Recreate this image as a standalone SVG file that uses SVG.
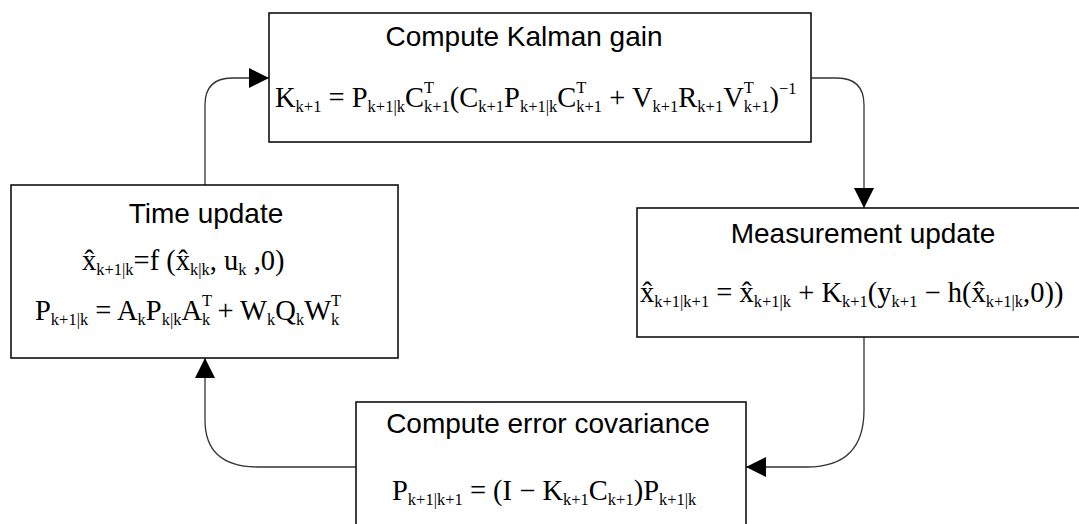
<svg xmlns="http://www.w3.org/2000/svg" width="1079" height="524" viewBox="0 0 1079 524">
<style>
.box{fill:#fff;stroke:#111;stroke-width:1.6}
.t{font-family:"Liberation Sans",Arial,sans-serif;font-size:28px;fill:#000;text-anchor:middle}
.m{font-family:"Liberation Serif","Times New Roman",serif;font-size:28.5px;fill:#000}
.s{font-size:16.5px}
.c{fill:none;stroke:#333;stroke-width:1.3}
</style>
<defs>
<marker id="ah" markerWidth="20" markerHeight="20" viewBox="0 0 20 20" refX="20" refY="10" orient="auto" markerUnits="userSpaceOnUse">
<path d="M0,0 L20,10 L0,20 Z" fill="#000"/>
</marker>
</defs>
<rect width="1079" height="524" fill="#fff"/>
<g id="connectors">
<path class="c" d="M205,185 V105 Q205,78 232,78 H269" marker-end="url(#ah)"/>
<path class="c" d="M811,78 H837 Q864,78 864,105 V208" marker-end="url(#ah)"/>
<path class="c" d="M864,337 V410 Q864,467 807,467 H746" marker-end="url(#ah)"/>
<path class="c" d="M356,467 H258 Q205,467 205,420 V358" marker-end="url(#ah)"/>
</g>
<g id="kalman-gain">
<rect class="box" x="269" y="13" width="542" height="129"/>
<text class="t" x="524" y="46">Compute Kalman gain</text>
<text class="m" x="275" y="107">K<tspan class="s" dy="5">k+1</tspan><tspan dy="-5"> = P</tspan><tspan class="s" dy="5">k+1|k</tspan><tspan dy="-5">C</tspan><tspan class="s" dy="-14">T</tspan><tspan class="s" dx="-10.1" dy="19">k+1</tspan><tspan dy="-5">(C</tspan><tspan class="s" dy="5">k+1</tspan><tspan dy="-5">P</tspan><tspan class="s" dy="5">k+1|k</tspan><tspan dy="-5">C</tspan><tspan class="s" dy="-14">T</tspan><tspan class="s" dx="-10.1" dy="19">k+1</tspan><tspan dy="-5"> + V</tspan><tspan class="s" dy="5">k+1</tspan><tspan dy="-5">R</tspan><tspan class="s" dy="5">k+1</tspan><tspan dy="-5">V</tspan><tspan class="s" dy="-14">T</tspan><tspan class="s" dx="-10.1" dy="19">k+1</tspan><tspan dy="-5">)</tspan><tspan class="s" dy="-13">−1</tspan></text>
</g>
<g id="time-update">
<rect class="box" x="11" y="185" width="387" height="173"/>
<text class="t" x="206" y="223">Time update</text>
<text class="m" x="82" y="270">x̂<tspan class="s" dy="5">k+1|k</tspan><tspan dy="-5">=f (x̂</tspan><tspan class="s" dy="5">k|k</tspan><tspan dy="-5">, u</tspan><tspan class="s" dy="5">k</tspan><tspan dy="-5"> ,0)</tspan></text>
<text class="m" x="35" y="320">P<tspan class="s" dy="5">k+1|k</tspan><tspan dy="-5"> = A</tspan><tspan class="s" dy="5">k</tspan><tspan dy="-5">P</tspan><tspan class="s" dy="5">k|k</tspan><tspan dy="-5">A</tspan><tspan class="s" dy="-14">T</tspan><tspan class="s" dx="-10.1" dy="19">k</tspan><tspan dy="-5"> + W</tspan><tspan class="s" dy="5">k</tspan><tspan dy="-5">Q</tspan><tspan class="s" dy="5">k</tspan><tspan dy="-5">W</tspan><tspan class="s" dy="-14">T</tspan><tspan class="s" dx="-10.1" dy="19">k</tspan></text>
</g>
<g id="measurement-update">
<rect class="box" x="637" y="208" width="460" height="129"/>
<text class="t" x="863" y="243">Measurement update</text>
<text class="m" x="640" y="302">x̂<tspan class="s" dy="5">k+1|k+1</tspan><tspan dy="-5"> = x̂</tspan><tspan class="s" dy="5">k+1|k</tspan><tspan dy="-5"> + K</tspan><tspan class="s" dy="5">k+1</tspan><tspan dy="-5">(y</tspan><tspan class="s" dy="5">k+1</tspan><tspan dy="-5"> − h(x̂</tspan><tspan class="s" dy="5">k+1|k</tspan><tspan dy="-5">,0))</tspan></text>
</g>
<g id="error-covariance">
<rect class="box" x="356" y="402" width="390" height="140"/>
<text class="t" x="548" y="433">Compute error covariance</text>
<text class="m" x="392" y="500">P<tspan class="s" dy="5">k+1|k+1</tspan><tspan dy="-5"> = (I − K</tspan><tspan class="s" dy="5">k+1</tspan><tspan dy="-5">C</tspan><tspan class="s" dy="5">k+1</tspan><tspan dy="-5">)P</tspan><tspan class="s" dy="5">k+1|k</tspan></text>
</g>
</svg>
